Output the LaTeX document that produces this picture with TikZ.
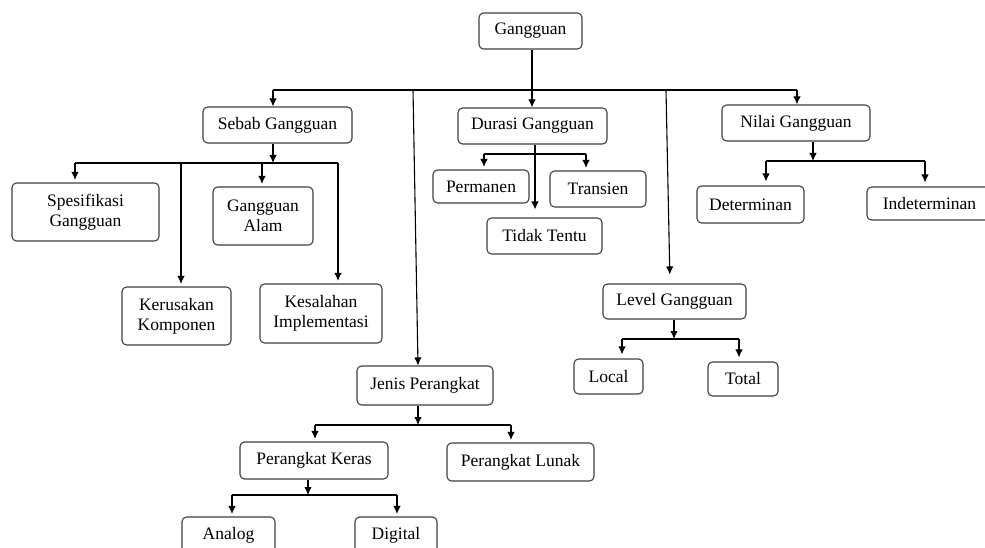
\documentclass[tikz,border=0pt]{standalone}
\usepackage{fontspec}
\setmainfont{Liberation Serif}
\usetikzlibrary{arrows.meta,calc}
\begin{document}
\begin{tikzpicture}[x=1pt,y=-1pt,
  box/.style={draw=black!75, rounded corners=4.5pt, line width=1.1pt, align=center, inner sep=0pt,
    font=\fontsize{17.5}{20}\selectfont},
  ln/.style={line width=1.1pt},
  arr/.style={line width=1.1pt, -{Latex[length=8pt,width=7.5pt]}},
  carr/.style={arr, shorten >=2.5pt}]
\useasboundingbox (0,0) rectangle (985,548);
\fill[white] (0,0) rectangle (985,548);
% nodes
\node[box, minimum width=103pt, minimum height=36pt] (g) at (530.5,31) {Gangguan};
\node[box, minimum width=149pt, minimum height=36pt] (sebab) at (277.5,125) {Sebab Gangguan};
\node[box, minimum width=149pt, minimum height=36pt] (durasi) at (532.5,126) {Durasi Gangguan};
\node[box, minimum width=148pt, minimum height=36pt] (nilai) at (796,123) {Nilai Gangguan};
\node[box, minimum width=147pt, minimum height=58pt] (spes) at (85.5,212) {Spesifikasi\\Gangguan};
\node[box, minimum width=100pt, minimum height=58pt] (alam) at (263,216) {Gangguan\\Alam};
\node[box, minimum width=109pt, minimum height=58pt] (kerus) at (176.5,316) {Kerusakan\\Komponen};
\node[box, minimum width=122pt, minimum height=59pt] (kesal) at (321,313.5) {Kesalahan\\Implementasi};
\node[box, minimum width=96pt, minimum height=33pt] (perm) at (481,186.5) {Permanen};
\node[box, minimum width=96pt, minimum height=36pt] (trans) at (598,189) {Transien};
\node[box, minimum width=115pt, minimum height=36pt] (tidak) at (544.5,236) {Tidak Tentu};
\node[box, minimum width=107pt, minimum height=37pt] (determ) at (750.5,204.5) {Determinan};
\node[box, minimum width=125pt, minimum height=33pt] (indet) at (929.5,203.5) {Indeterminan};
\node[box, minimum width=143pt, minimum height=35pt] (level) at (674.5,301.5) {Level Gangguan};
\node[box, minimum width=69pt, minimum height=35pt] (local) at (608.5,376.5) {Local};
\node[box, minimum width=70pt, minimum height=34pt] (total) at (743,379) {Total};
\node[box, minimum width=136pt, minimum height=39pt] (jenis) at (425,385.5) {Jenis Perangkat};
\node[box, minimum width=148pt, minimum height=37pt] (keras) at (314,460.5) {Perangkat Keras};
\node[box, minimum width=147pt, minimum height=38pt] (lunak) at (520.5,462) {Perangkat Lunak};
\node[box, minimum width=93pt, minimum height=37pt] (analog) at (228.5,535.5) {Analog};
\node[box, minimum width=82pt, minimum height=37pt] (digital) at (396,535.5) {Digital};
% top level bus
\coordinate (j0) at (532,90);
\coordinate (bl) at (273,90);
\coordinate (br) at (797,90);
\coordinate (jj) at (413,90);
\coordinate (jl) at (666,90);
\draw[ln] (j0 |- g.south) -- (j0);
\draw[ln] (bl) -- (br);
\draw[arr] (bl) -- (bl |- sebab.north);
\draw[arr] (j0) -- (j0 |- durasi.north);
\draw[arr] (br) -- (br |- nilai.north);
\draw[arr] (jj) -- ($(jenis.north)+(-7,0)$);
\draw[arr, shorten >=9pt] (jl) -- ($(level.north)+(-4.5,0)$);
% sebab
\coordinate (s1) at (273,163);
\coordinate (sa) at (75,163);
\coordinate (sk) at (181,163);
\coordinate (sg) at (262,163);
\coordinate (si) at (338,163);
\draw[arr] (s1 |- sebab.south) -- (s1);
\draw[ln] (sa) -- (si);
\draw[carr] (sa) -- (sa |- spes.north);
\draw[carr] (sk) -- (sk |- kerus.north);
\draw[carr] (sg) -- (sg |- alam.north);
\draw[carr] (si) -- (si |- kesal.north);
% durasi
\coordinate (dx) at (535,154);
\coordinate (dl) at (484,154);
\coordinate (dr) at (586,154);
\draw[arr, shorten >=8pt] (dx |- durasi.south) -- (dx |- tidak.north);
\draw[ln] (dl) -- (dr);
\draw[carr] (dl) -- (dl |- perm.north);
\draw[carr] (dr) -- (dr |- trans.north);
% nilai
\coordinate (n1) at (813,161);
\coordinate (nl) at (766,161);
\coordinate (nr) at (925,161);
\draw[arr] (n1 |- nilai.south) -- (n1);
\draw[ln] (nl) -- (nr);
\draw[carr, shorten >=4pt] (nl) -- (nl |- determ.north);
\draw[carr, shorten >=4pt] (nr) -- (nr |- indet.north);
% level
\coordinate (l1) at (674,339);
\coordinate (ll) at (622,339);
\coordinate (lr) at (739,339);
\draw[arr] (l1 |- level.south) -- (l1);
\draw[ln] (ll) -- (lr);
\draw[carr, shorten >=4pt] (ll) -- (ll |- local.north);
\draw[carr, shorten >=4pt] (lr) -- (lr |- total.north);
% jenis
\coordinate (p1) at (418,425);
\coordinate (pl) at (315,425);
\coordinate (pr) at (511,425);
\draw[arr] (p1 |- jenis.south) -- (p1);
\draw[ln] (pl) -- (pr);
\draw[carr] (pl) -- (pl |- keras.north);
\draw[carr] (pr) -- (pr |- lunak.north);
% keras
\coordinate (k1) at (308,495);
\coordinate (kl) at (232,495);
\coordinate (kr) at (397,495);
\draw[arr] (k1 |- keras.south) -- (k1);
\draw[ln] (kl) -- (kr);
\draw[carr] (kl) -- (kl |- analog.north);
\draw[carr] (kr) -- (kr |- digital.north);
\end{tikzpicture}
\end{document}
